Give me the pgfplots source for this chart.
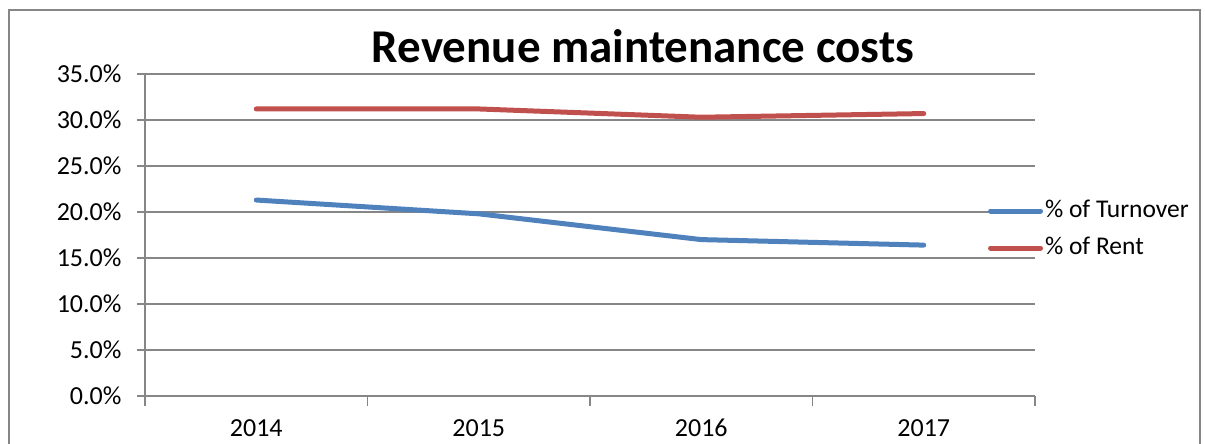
\documentclass[border=0pt]{standalone}
\usepackage{pgfplots}
\pgfplotsset{compat=1.18}
\usepackage{fontspec}
\setmainfont{Carlito}
\definecolor{tblue}{HTML}{4F81BD}
\definecolor{rred}{HTML}{C0504D}
\definecolor{gridc}{HTML}{868686}
\begin{document}
\begin{tikzpicture}[x=1pt,y=1pt]
\useasboundingbox (0,0) rectangle (1205,444);
\draw[gridc, line width=2.5pt] (9,-10) -- (9,434) -- (1200,434) -- (1200,-10);
\node[anchor=base, inner sep=0pt, font=\fontsize{47}{50}\selectfont\bfseries] at (643,381) {Revenue maintenance costs};
\begin{axis}[
  at={(145pt,48pt)}, anchor=south west, scale only axis,
  width=890pt, height=322pt,
  xmin=-0.5, xmax=3.5, ymin=0, ymax=35,
  axis lines*=left,
  axis line style={gridc, line width=1.3pt},
  tick align=outside,
  major tick length=8pt, minor tick length=10pt,
  tick style={gridc, line width=1.1pt},
  xtick={0,1,2,3}, xticklabels={2014,2015,2016,2017},
  major x tick style={draw=none},
  minor xtick={-0.5,0.5,1.5,2.5,3.5},
  ytick={0,5,10,15,20,25,30,35},
  ymajorgrids, grid style={gridc, line width=1.3pt},
  yticklabel={\pgfmathprintnumber[fixed,fixed zerofill,precision=1]{\tick}\%},
  /pgf/number format/assume math mode=true,
  ticklabel style={font=\fontsize{26}{28}\selectfont, text=black},
  xticklabel style={font=\fontsize{26}{28}\selectfont, text height=16pt, text depth=0pt, yshift=-13pt},
  yticklabel style={xshift=-12pt},
  legend cell align=left,
  legend image code/.code={\draw[#1, line width=5pt, line cap=round] (0pt,0pt) -- (50pt,0pt);},
  legend style={at={(0.947,0.517)}, anchor=west, draw=none, fill=none,
    inner sep=0pt, row sep=13pt,
    font=\fontsize{25.5}{28}\selectfont,
    nodes={inner sep=2pt, text height=16pt, text depth=4pt}},
]
\addplot[tblue, line width=5pt, line join=round, line cap=round] coordinates {(0,21.3) (1,19.8) (2,17.0) (3,16.4)};
\addlegendentry{\% of Turnover}
\addplot[rred, line width=5pt, line join=round, line cap=round] coordinates {(0,31.2) (1,31.2) (2,30.3) (3,30.7)};
\addlegendentry{\% of Rent}
\end{axis}
\end{tikzpicture}
\end{document}
